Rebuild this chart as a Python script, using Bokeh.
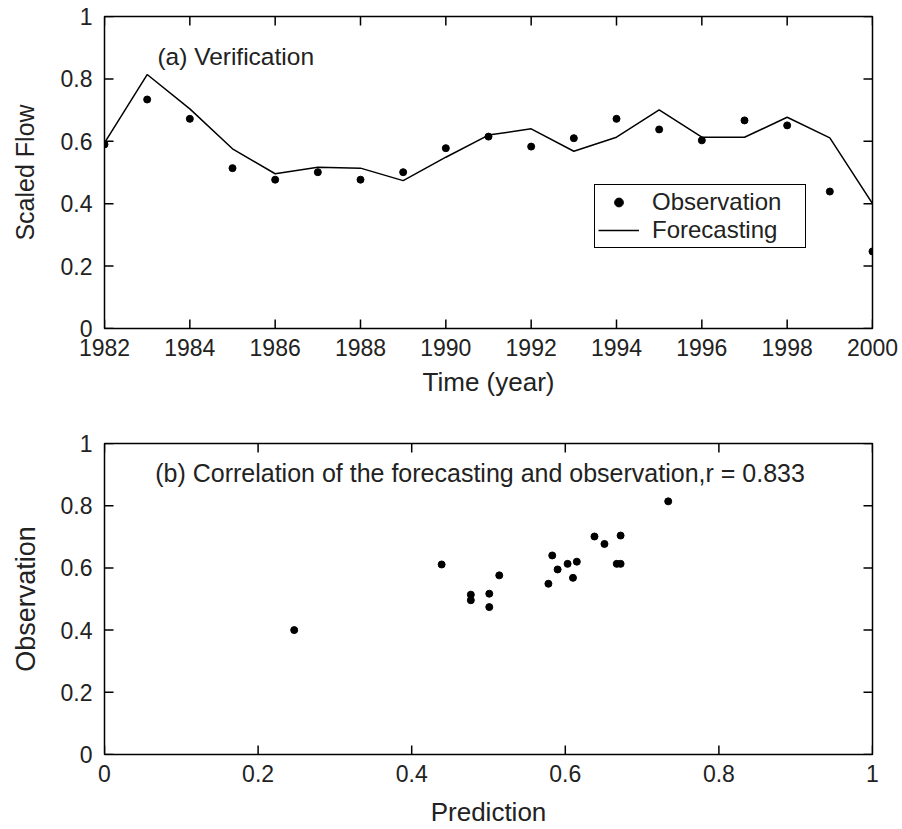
from bokeh.plotting import figure
from bokeh.layouts import column
from bokeh.models import (Range1d, FixedTicker, NumeralTickFormatter,
                          Legend, LegendItem, Label, ColumnDataSource)
from bokeh.embed import file_html
from bokeh.resources import INLINE

years = [1982, 1983, 1984, 1985, 1986, 1987, 1988, 1989, 1990, 1991,
         1992, 1993, 1994, 1995, 1996, 1997, 1998, 1999, 2000]
observation = [0.590, 0.734, 0.672, 0.514, 0.477, 0.501, 0.477, 0.501, 0.578, 0.615,
               0.583, 0.610, 0.672, 0.638, 0.603, 0.667, 0.651, 0.439, 0.247]
forecasting = [0.595, 0.814, 0.704, 0.576, 0.496, 0.517, 0.514, 0.474, 0.549, 0.620,
               0.640, 0.568, 0.613, 0.701, 0.613, 0.613, 0.677, 0.611, 0.400]

year_ticks = [1982, 1984, 1986, 1988, 1990, 1992, 1994, 1996, 1998, 2000]
unit_ticks = [0, 0.2, 0.4, 0.6, 0.8, 1.0]

FONT = "Liberation Sans"
TICK_FS = "23px"
TEXT_COLOR = "#222222"

FIG_W = 902
BORDER_L, BORDER_R = 104, 30
FRAME_W = FIG_W - BORDER_L - BORDER_R
TICK_LEN = 9  # px, drawn inward


def style_axis(ax, label_fs):
    ax.major_tick_in = 0
    ax.major_tick_out = 0
    ax.minor_tick_line_color = None
    ax.axis_line_color = None
    ax.major_label_text_font = FONT
    ax.major_label_text_font_size = TICK_FS
    ax.major_label_text_color = TEXT_COLOR
    ax.axis_label_text_font = FONT
    ax.axis_label_text_font_size = label_fs
    ax.axis_label_text_font_style = "normal"
    ax.axis_label_text_color = TEXT_COLOR


def make_fig(height, x_range, border_top, border_bottom):
    p = figure(width=FIG_W, height=height, x_range=x_range, y_range=Range1d(0, 1),
               output_backend="svg", toolbar_location=None,
               min_border_left=BORDER_L, min_border_right=BORDER_R,
               min_border_top=border_top, min_border_bottom=border_bottom)
    p.outline_line_color = "black"
    p.outline_line_width = 1.5
    p.outline_line_alpha = 1
    p.xgrid.visible = False
    p.ygrid.visible = False
    p.background_fill_color = "white"
    p.border_fill_color = "white"
    return p


def inward_ticks(p, xr, yr, xticks, yticks, frame_h):
    x0, x1 = xr
    y0, y1 = yr
    lx = TICK_LEN / FRAME_W * (x1 - x0)
    ly = TICK_LEN / frame_h * (y1 - y0)
    xs0, ys0, xs1, ys1 = [], [], [], []
    for t in xticks:
        xs0 += [t, t]
        xs1 += [t, t]
        ys0 += [y0, y1]
        ys1 += [y0 + ly, y1 - ly]
    for t in yticks:
        ys0 += [t, t]
        ys1 += [t, t]
        xs0 += [x0, x1]
        xs1 += [x0 + lx, x1 - lx]
    p.segment(x0=xs0, y0=ys0, x1=xs1, y1=ys1, line_color="black", line_width=1.5)


# ---------- (a) Verification ----------
H1, T1, B1 = 420, 16, 92
p1 = make_fig(H1, Range1d(1982, 2000), T1, B1)
src = ColumnDataSource(dict(year=years, obs=observation, fc=forecasting))
ln = p1.line("year", "fc", source=src, line_color="black", line_width=1.5)
sc = p1.scatter("year", "obs", source=src, marker="circle", size=7,
                fill_color="black", line_color="black")
inward_ticks(p1, (1982, 2000), (0, 1), year_ticks, unit_ticks, H1 - T1 - B1)

p1.xaxis.ticker = FixedTicker(ticks=year_ticks)
p1.yaxis.ticker = FixedTicker(ticks=unit_ticks)
p1.yaxis.formatter = NumeralTickFormatter(format="0.[0]")
p1.xaxis.axis_label = "Time (year)"
p1.yaxis.axis_label = "Scaled Flow"
style_axis(p1.xaxis[0], "26px")
style_axis(p1.yaxis[0], "25px")
p1.xaxis.major_label_standoff = 10
p1.xaxis.axis_label_standoff = 8
p1.yaxis.major_label_standoff = 12
p1.yaxis.axis_label_standoff = 19

p1.add_layout(Label(x=1983.24, y=0.872, text="(a) Verification", text_font=FONT,
                    text_font_size="24.5px", text_baseline="middle", text_color=TEXT_COLOR))

legend = Legend(items=[LegendItem(label="Observation", renderers=[sc]),
                       LegendItem(label="Forecasting", renderers=[ln])],
                location=(490, 80))
legend.border_line_color = "black"
legend.border_line_width = 1.2
legend.border_line_alpha = 1
legend.background_fill_color = "white"
legend.background_fill_alpha = 1
legend.label_text_font = FONT
legend.label_text_font_size = "24px"
legend.label_text_color = TEXT_COLOR
legend.glyph_width = 41
legend.glyph_height = 22
legend.label_height = 22
legend.label_width = 150
legend.label_standoff = 13
legend.spacing = 0
legend.margin = 0
legend.padding = 3
p1.add_layout(legend)

# ---------- (b) Correlation ----------
H2, T2, B2 = 409, 23, 74
p2 = make_fig(H2, Range1d(0, 1), T2, B2)
p2.scatter(observation, forecasting, marker="circle", size=7,
           fill_color="black", line_color="black")
inward_ticks(p2, (0, 1), (0, 1), unit_ticks, unit_ticks, H2 - T2 - B2)
p2.xaxis.ticker = FixedTicker(ticks=unit_ticks)
p2.yaxis.ticker = FixedTicker(ticks=unit_ticks)
p2.xaxis.formatter = NumeralTickFormatter(format="0.[0]")
p2.yaxis.formatter = NumeralTickFormatter(format="0.[0]")
p2.xaxis.axis_label = "Prediction"
p2.yaxis.axis_label = "Observation"
style_axis(p2.xaxis[0], "26px")
style_axis(p2.yaxis[0], "27px")
p2.xaxis.major_label_standoff = 10
p2.xaxis.axis_label_standoff = 12
p2.yaxis.major_label_standoff = 12
p2.yaxis.axis_label_standoff = 17

p2.add_layout(Label(x=0.066, y=0.904,
                    text="(b) Correlation of the forecasting and observation,r = 0.833",
                    text_font=FONT, text_font_size="25px", text_baseline="middle",
                    text_color=TEXT_COLOR))

layout = column(p1, p2, spacing=0)
open("out.html", "w").write(file_html(layout, INLINE))
